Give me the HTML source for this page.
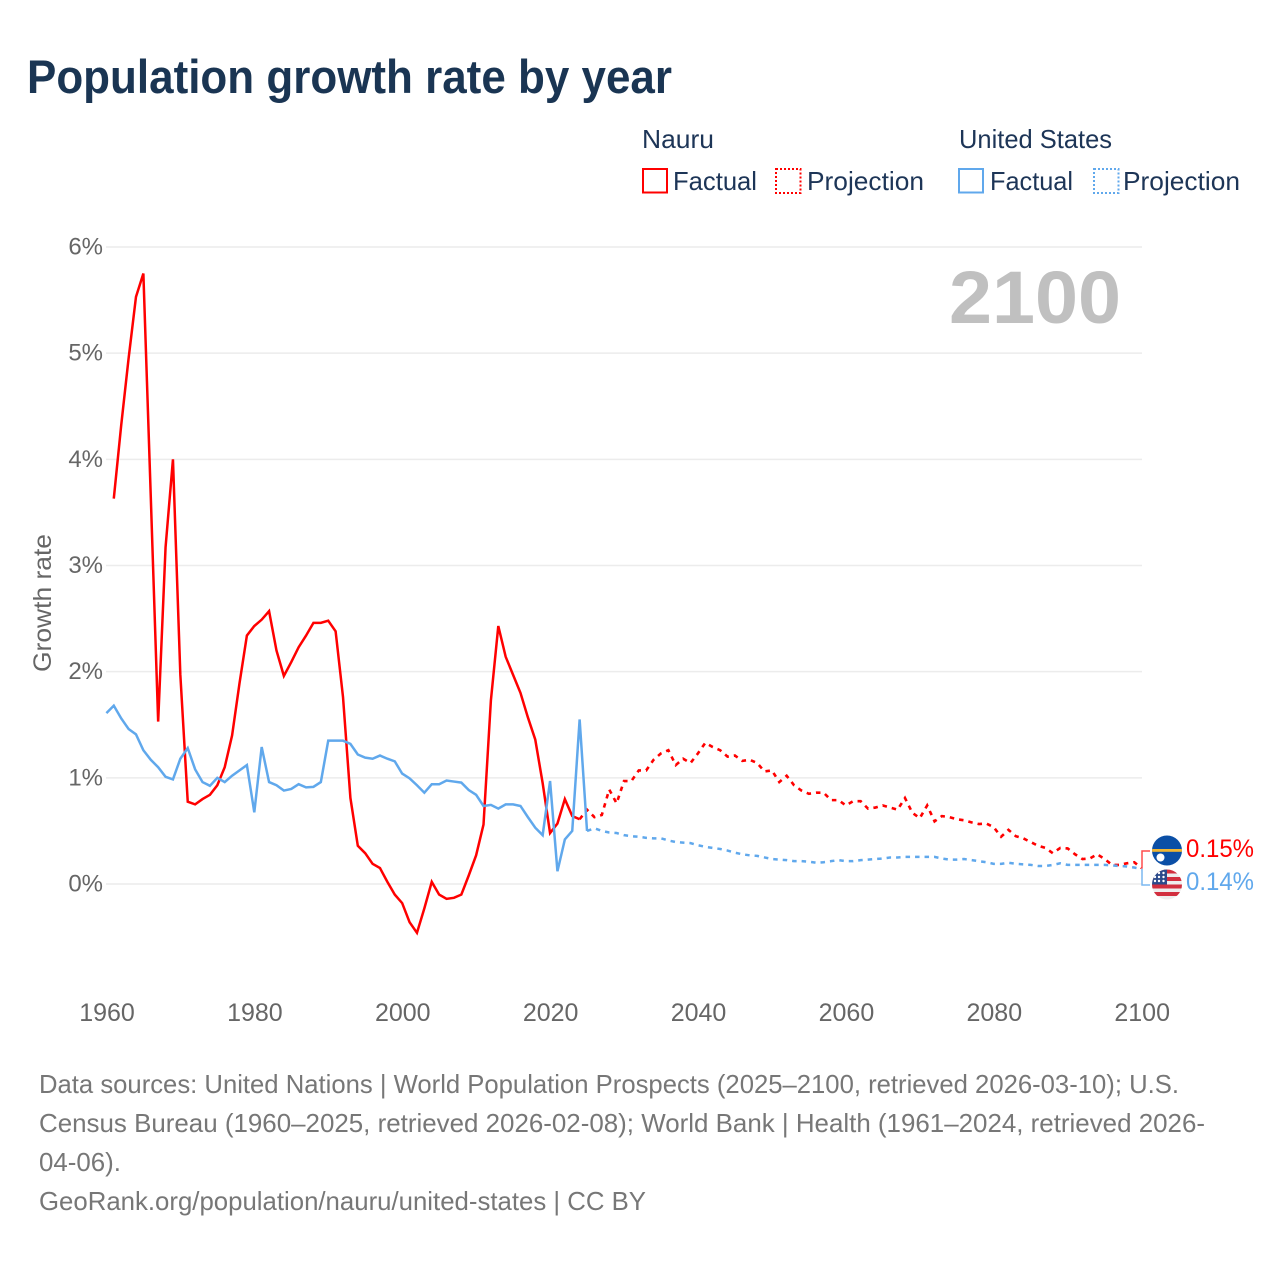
<!DOCTYPE html>
<html lang="en">
<head>
<meta charset="utf-8">
<title>Population growth rate by year</title>
<style>
html,body{margin:0;padding:0;background:#fff;width:1280px;height:1280px;overflow:hidden}
svg{display:block}
text{font-family:"Liberation Sans",sans-serif}
</style>
</head>
<body>
<svg id="chart" xmlns="http://www.w3.org/2000/svg" width="1280" height="1280" viewBox="0 0 1280 1280">
  <rect x="0" y="0" width="1280" height="1280" fill="#fff"/>
  <text x="27" y="93" font-size="47" font-weight="700" fill="#1a3553" textLength="645" lengthAdjust="spacingAndGlyphs">Population growth rate by year</text>

  <g font-size="26" fill="#1d3557">
    <text x="642" y="148" textLength="72" lengthAdjust="spacingAndGlyphs">Nauru</text>
    <rect x="643" y="169" width="24" height="23.500" fill="none" stroke="#ff0000" stroke-width="2"/>
    <text x="673" y="190" textLength="84" lengthAdjust="spacingAndGlyphs">Factual</text>
    <rect x="776" y="169" width="24.500" height="24" fill="none" stroke="#ff0000" stroke-width="2" stroke-dasharray="2 2"/>
    <text x="807" y="190" textLength="117" lengthAdjust="spacingAndGlyphs">Projection</text>
    <text x="959" y="148" textLength="153" lengthAdjust="spacingAndGlyphs">United States</text>
    <rect x="959" y="169" width="24" height="23.500" fill="none" stroke="#60a8ec" stroke-width="2"/>
    <text x="990" y="190" textLength="83" lengthAdjust="spacingAndGlyphs">Factual</text>
    <rect x="1094" y="169" width="24.500" height="24" fill="none" stroke="#60a8ec" stroke-width="2" stroke-dasharray="2 2"/>
    <text x="1123" y="190" textLength="117" lengthAdjust="spacingAndGlyphs">Projection</text>
  </g>

  <g id="grid"></g>
  <g id="yticks"></g>
  <g id="xticks"></g>

  <text transform="translate(51 672) rotate(-90)" x="0" y="0" font-size="25" fill="#666" textLength="138" lengthAdjust="spacingAndGlyphs">Growth rate</text>
  <text x="949" y="323" font-size="74" font-weight="700" fill="#c0c0c0" textLength="172" lengthAdjust="spacingAndGlyphs">2100</text>

  <g id="series"></g>

  <g id="ends"></g>

  <defs>
    <clipPath id="clip-nr"><circle cx="1167" cy="850.500" r="15"/></clipPath>
    <clipPath id="clip-us"><circle cx="1167" cy="884.500" r="15"/></clipPath>
  </defs>
  <g clip-path="url(#clip-nr)">
    <rect x="1150" y="833" width="34" height="35" fill="#0b4fa6"/>
    <rect x="1150" y="849" width="34" height="2.800" fill="#f2b632"/>
    <circle cx="1160.500" cy="857.500" r="4" fill="#fff"/>
  </g>
  <g clip-path="url(#clip-us)">
    <rect x="1150" y="868" width="34" height="34" fill="#eeeeee"/>
    <rect x="1150" y="869.500" width="34" height="4" fill="#d22f3f"/>
    <rect x="1150" y="877" width="34" height="4" fill="#d22f3f"/>
    <rect x="1150" y="884.500" width="34" height="4" fill="#d22f3f"/>
    <rect x="1150" y="892" width="34" height="4" fill="#d22f3f"/>
    <rect x="1150" y="868" width="17" height="16.500" fill="#2b4a8b"/>
    <g fill="#fff">
      <circle cx="1159" cy="873" r="1.200"/><circle cx="1163.500" cy="873" r="1.200"/>
      <circle cx="1155" cy="877" r="1.200"/><circle cx="1159" cy="877" r="1.200"/><circle cx="1163.500" cy="877" r="1.200"/>
      <circle cx="1155" cy="881" r="1.200"/><circle cx="1159" cy="881" r="1.200"/><circle cx="1163.500" cy="881" r="1.200"/>
    </g>
  </g>

  <g font-size="26" fill="#777">
    <text x="39" y="1093" textLength="1140" lengthAdjust="spacingAndGlyphs">Data sources: United Nations | World Population Prospects (2025–2100, retrieved 2026-03-10); U.S.</text>
    <text x="39" y="1132" textLength="1166" lengthAdjust="spacingAndGlyphs">Census Bureau (1960–2025, retrieved 2026-02-08); World Bank | Health (1961–2024, retrieved 2026-</text>
    <text x="39" y="1171" textLength="82" lengthAdjust="spacingAndGlyphs">04-06).</text>
    <text x="39" y="1210" textLength="607" lengthAdjust="spacingAndGlyphs">GeoRank.org/population/nauru/united-states | CC BY</text>
  </g>
</svg>
<script>
const yTickValues = [0, 1, 2, 3, 4, 5, 6];
const xTickYears = [1960, 1980, 2000, 2020, 2040, 2060, 2080, 2100];

const nauruFactualStart = 1961;
const nauruFactual = [3.63,4.32,4.95,5.53,5.75,3.65,1.53,3.17,4.00,1.97,0.775,0.75,0.80,0.84,0.93,1.10,1.40,1.89,2.34,2.43,2.49,2.57,2.20,1.96,2.09,2.23,2.34,2.46,2.46,2.48,2.38,1.76,0.81,0.36,0.29,0.19,0.15,0.02,-0.10,-0.18,-0.36,-0.46,-0.23,0.02,-0.10,-0.14,-0.13,-0.10,0.08,0.27,0.56,1.73,2.43,2.14,1.97,1.80,1.57,1.36,0.95,0.48,0.57,0.80,0.64,0.61];

const nauruProjectionStart = 2024;
const nauruProjection = [0.61,0.70,0.63,0.65,0.89,0.76,0.97,0.97,1.07,1.07,1.17,1.23,1.26,1.12,1.18,1.14,1.23,1.33,1.29,1.26,1.20,1.21,1.16,1.17,1.14,1.06,1.07,0.96,1.02,0.93,0.88,0.85,0.86,0.86,0.79,0.79,0.74,0.78,0.78,0.71,0.72,0.74,0.72,0.70,0.81,0.67,0.62,0.74,0.59,0.64,0.63,0.61,0.60,0.58,0.565,0.57,0.535,0.445,0.51,0.45,0.43,0.395,0.36,0.34,0.29,0.34,0.335,0.28,0.235,0.24,0.28,0.235,0.18,0.18,0.195,0.205,0.15];

const usFactualStart = 1960;
const usFactual = [1.61,1.68,1.56,1.46,1.41,1.26,1.17,1.10,1.01,0.985,1.18,1.28,1.08,0.96,0.925,1.00,0.96,1.02,1.07,1.12,0.675,1.29,0.96,0.93,0.88,0.895,0.94,0.91,0.915,0.96,1.35,1.35,1.35,1.32,1.22,1.19,1.18,1.21,1.18,1.155,1.04,0.995,0.93,0.86,0.94,0.94,0.975,0.965,0.955,0.885,0.84,0.735,0.745,0.71,0.75,0.75,0.735,0.63,0.53,0.46,0.97,0.12,0.42,0.50,1.55,0.50];

const usProjectionStart = 2025;
const usProjection = [0.50,0.525,0.50,0.485,0.48,0.46,0.45,0.445,0.435,0.43,0.43,0.41,0.395,0.39,0.385,0.365,0.35,0.34,0.33,0.315,0.295,0.28,0.27,0.265,0.25,0.235,0.23,0.225,0.215,0.215,0.21,0.20,0.205,0.215,0.225,0.215,0.215,0.225,0.23,0.235,0.24,0.25,0.25,0.255,0.255,0.255,0.255,0.255,0.24,0.23,0.23,0.235,0.225,0.215,0.205,0.19,0.19,0.20,0.19,0.185,0.18,0.17,0.17,0.18,0.195,0.18,0.18,0.18,0.18,0.18,0.18,0.175,0.17,0.165,0.155,0.14];

const endLabelNauru = "0.15%";
const endLabelUS = "0.14%";

const SVG_NS = "http://www.w3.org/2000/svg";
function xScale(year) { return 106.4 + (year - 1960) * (1141.6 - 106.4) / 140; }
function yScale(pct) { return 884 - pct * (884 - 247) / 6; }
function mk(tag, attrs, parent) {
  const el = document.createElementNS(SVG_NS, tag);
  for (const k in attrs) el.setAttribute(k, attrs[k]);
  parent.appendChild(el);
  return el;
}
function linePath(startYear, values) {
  return values.map((v, i) => (i ? "L" : "M") + xScale(startYear + i).toFixed(2) + " " + yScale(v).toFixed(2)).join("");
}

const grid = document.getElementById("grid");
const yticks = document.getElementById("yticks");
yTickValues.forEach(v => {
  const line = mk("line", {x1: 106, x2: 1142, y1: yScale(v), y2: yScale(v), stroke: "#ececec", "stroke-width": 1.5}, grid);
  
  
  const t = mk("text", {x: 103, y: yScale(v) + 7.5, "text-anchor": "end", "font-size": 24, fill: "#666"}, yticks);
  
  
  t.textContent = v + "%";
});

const xticks = document.getElementById("xticks");
xTickYears.forEach(y => {
  const t = mk("text", {x: xScale(y) + 0.6, y: 1021, "text-anchor": "middle", "font-size": 25, fill: "#666"}, xticks);
  
  
  t.textContent = y;
});

const series = document.getElementById("series");
const RED = "#ff0000", BLUE = "#60a8ec";
const dash = "4.5 5";

const p1 = mk("path", {d: linePath(nauruFactualStart, nauruFactual), fill: "none", stroke: RED, "stroke-width": 2.5}, series);



const p2 = mk("path", {d: linePath(nauruProjectionStart, nauruProjection), fill: "none", stroke: RED, "stroke-width": 2.6, "stroke-dasharray": dash}, series);



const p3 = mk("path", {d: linePath(usFactualStart, usFactual), fill: "none", stroke: BLUE, "stroke-width": 2.5}, series);



const p4 = mk("path", {d: linePath(usProjectionStart, usProjection), fill: "none", stroke: BLUE, "stroke-width": 2.5, "stroke-dasharray": dash}, series);



const ends = document.getElementById("ends");
const lastNauru = nauruProjection[nauruProjection.length - 1];
const lastUS = usProjection[usProjection.length - 1];
const midY = (yScale(lastNauru) + yScale(lastUS)) / 2;

const b1 = mk("path", {d: "M1142 " + midY + "V851H1150", fill: "none", stroke: "#ff4d4d", "stroke-width": 1.5}, ends);



const b2 = mk("path", {d: "M1142 " + midY + "V885H1150", fill: "none", stroke: "#7cb8f0", "stroke-width": 1.5}, ends);



const l1 = mk("text", {x: 1186, y: 857, "font-size": 25, fill: RED, textLength: 68, lengthAdjust: "spacingAndGlyphs"}, ends);


l1.textContent = endLabelNauru;

const l2 = mk("text", {x: 1186, y: 890, "font-size": 25, fill: BLUE, textLength: 68, lengthAdjust: "spacingAndGlyphs"}, ends);


l2.textContent = endLabelUS;
</script>
</body>
</html>
